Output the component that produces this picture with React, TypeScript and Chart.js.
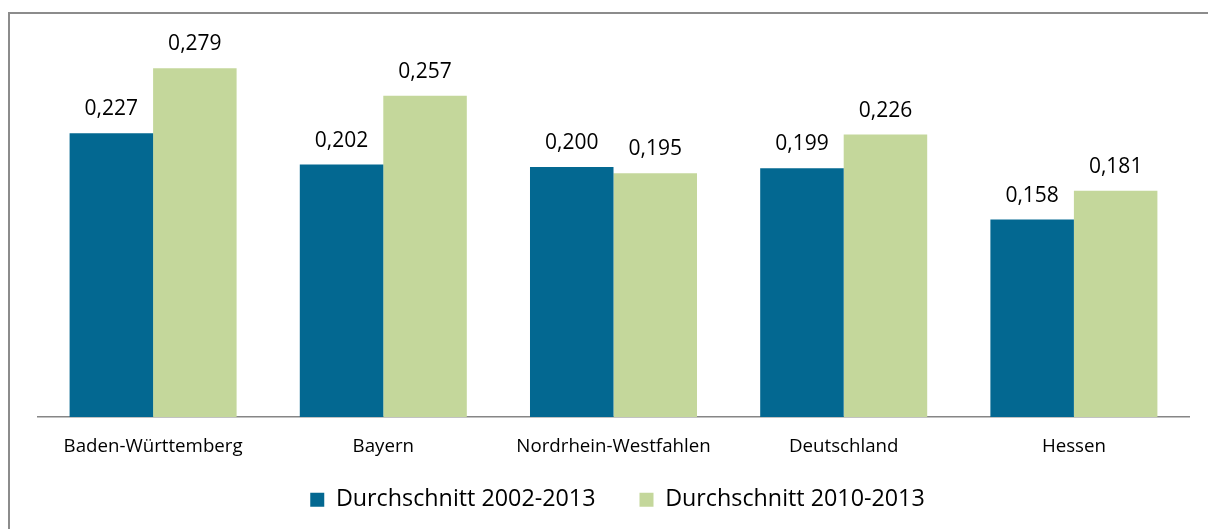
import React, { useEffect, useRef } from "react";
import { Chart, registerables } from "chart.js";

Chart.register(...registerables);

const categories = ["Baden-Württemberg", "Bayern", "Nordrhein-Westfahlen", "Deutschland", "Hessen"];
const seriesNames = ["Durchschnitt 2002-2013", "Durchschnitt 2010-2013"];
const avg2002to2013 = [0.227, 0.202, 0.2, 0.199, 0.158];
const avg2010to2013 = [0.279, 0.257, 0.195, 0.226, 0.181];

const FONT = "'Open Sans', 'Noto Sans', sans-serif";

const framePlugin = {
  id: "frame",
  beforeDraw(chart: any) {
    const ctx = chart.ctx;
    ctx.save();
    ctx.strokeStyle = "#8c8c8c";
    ctx.lineWidth = 2;
    ctx.beginPath();
    ctx.moveTo(9, 529);
    ctx.lineTo(9, 13);
    ctx.lineTo(1208, 13);
    ctx.stroke();
    ctx.restore();
  },
};

const legendShiftPlugin = {
  id: "legendShift",
  afterLayout(chart: any) {
    const l = chart.legend;
    if (l) {
      l.left += 4;
      l.right += 4;
      l.top -= 17;
      l.bottom -= 17;
    }
  },
};

const valueLabelPlugin = {
  id: "valueLabels",
  afterDatasetsDraw(chart: any) {
    const ctx = chart.ctx;
    ctx.save();
    ctx.font = `21px ${FONT}`;
    ctx.fillStyle = "#000";
    ctx.textAlign = "center";
    ctx.textBaseline = "alphabetic";
    chart.data.datasets.forEach((ds: any, i: number) => {
      const meta = chart.getDatasetMeta(i);
      meta.data.forEach((el: any, j: number) => {
        const v = ds.data[j] as number;
        ctx.fillText(v.toFixed(3).replace(".", ","), el.x, el.y - 18);
      });
    });
    ctx.restore();
  },
};

export default function App() {
  const ref = useRef<HTMLCanvasElement>(null);

  useEffect(() => {
    if (!ref.current) return;
    const chart = new Chart(ref.current, {
      type: "bar",
      data: {
        labels: categories,
        datasets: [
          {
            label: seriesNames[0],
            data: avg2002to2013,
            backgroundColor: "#036891",
            borderWidth: 0,
            barPercentage: 1,
            categoryPercentage: 0.7255,
          },
          {
            label: seriesNames[1],
            data: avg2010to2013,
            backgroundColor: "#c4d79b",
            borderWidth: 0,
            barPercentage: 1,
            categoryPercentage: 0.7255,
          },
        ],
      },
      options: {
        responsive: false,
        animation: false,
        devicePixelRatio: 1,
        layout: { padding: { left: 38, right: 19, top: 42, bottom: -9.3 } },
        scales: {
          x: {
            grid: { display: false, drawTicks: false },
            border: { display: true, color: "#868686", width: 1.6 },
            ticks: {
              color: "#000",
              font: { family: FONT, size: 18.7 },
              padding: 18,
              maxRotation: 0,
              autoSkip: false,
            },
            afterFit: (s: any) => {
              s.height = 44;
            },
          },
          y: { display: false, min: 0, max: 0.3 },
        },
        plugins: {
          legend: {
            position: "bottom",
            labels: {
              boxWidth: 14,
              boxHeight: 14,
              padding: 44,
              color: "#000",
              font: { family: FONT, size: 23.3 },
            },
          },
          tooltip: { enabled: false },
        },
      },
      plugins: [framePlugin, legendShiftPlugin, valueLabelPlugin],
    });
    return () => chart.destroy();
  }, []);

  return (
    <div style={{ position: "fixed", left: 0, top: 0, width: 1208, height: 529, background: "#fff" }}>
      <canvas ref={ref} width={1208} height={529} style={{ display: "block", width: 1208, height: 529 }} />
    </div>
  );
}
